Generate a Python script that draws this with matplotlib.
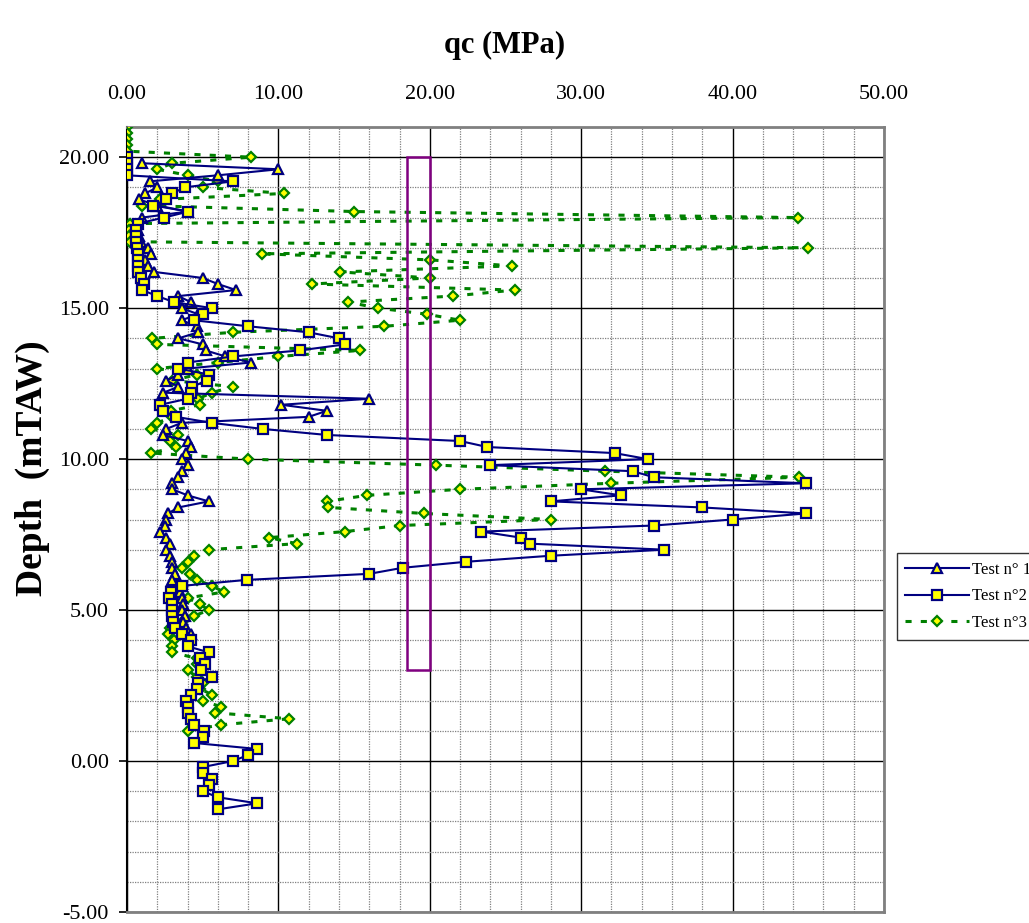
import matplotlib
matplotlib.use("Agg")
import matplotlib.pyplot as plt
from matplotlib.patches import Rectangle
from matplotlib.ticker import MultipleLocator, FormatStrFormatter

plt.rcParams["font.family"] = ["Liberation Serif", "DejaVu Serif"]

# Test n° 1 (triangles)
depth1 = [19.8, 19.6, 19.4, 19.2, 19.0, 18.8, 18.6, 18.4, 18.2, 18.0,
          17.8, 17.6, 17.4, 17.2, 17.0, 16.8, 16.6, 16.4, 16.2, 16.0,
          15.8, 15.6, 15.4, 15.2, 15.0, 14.8, 14.6, 14.4, 14.2, 14.0,
          13.8, 13.6, 13.4, 13.2, 13.0, 12.8, 12.6, 12.4, 12.2, 12.0,
          11.8, 11.6, 11.4, 11.2, 11.0, 10.8, 10.6, 10.4, 10.2, 10.0,
          9.8, 9.6, 9.4, 9.2, 9.0, 8.8, 8.6, 8.4, 8.2, 8.0,
          7.8, 7.6, 7.4, 7.2, 7.0, 6.8, 6.6, 6.4, 6.2, 6.0,
          5.8, 5.6, 5.4, 5.2, 5.0, 4.8, 4.6, 4.4, 4.2]
qc1 = [1.0, 10.0, 6.0, 1.5, 2.0, 1.2, 0.8, 2.0, 4.0, 1.0,
       0.6, 0.7, 0.8, 0.9, 1.4, 1.6, 1.2, 1.4, 1.8, 5.0,
       6.0, 7.2, 3.4, 4.2, 3.6, 4.7, 3.6, 4.6, 4.7, 3.4,
       5.0, 5.2, 6.5, 8.2, 4.0, 3.4, 2.6, 3.4, 2.4, 16.0,
       10.2, 13.2, 12.0, 3.6, 2.6, 2.4, 4.0, 4.2, 3.9, 3.6,
       4.0, 3.6, 3.4, 3.0, 3.0, 4.0, 5.4, 3.4, 2.7, 2.6,
       2.5, 2.2, 2.6, 2.85, 2.6, 2.85, 2.95, 3.0, 3.2, 3.0,
       3.6, 3.5, 3.6, 3.7, 3.6, 3.8, 3.7, 3.9, 4.2]

# Test n°2 (squares)
depth2 = [20.0, 19.8, 19.6, 19.4, 19.2, 19.0, 18.8, 18.6, 18.4, 18.2,
          18.0, 17.8, 17.6, 17.4, 17.2, 17.0, 16.8, 16.6, 16.4, 16.2,
          16.0, 15.8, 15.6, 15.4, 15.2, 15.0, 14.8, 14.6, 14.4, 14.2,
          14.0, 13.8, 13.6, 13.4, 13.2, 13.0, 12.8, 12.6, 12.4, 12.2,
          12.0, 11.8, 11.6, 11.4, 11.2, 11.0, 10.8, 10.6, 10.4, 10.2,
          10.0, 9.8, 9.6, 9.4, 9.2, 9.0, 8.8, 8.6, 8.4, 8.2,
          8.0, 7.8, 7.6, 7.4, 7.2, 7.0, 6.8, 6.6, 6.4, 6.2,
          6.0, 5.8, 5.6, 5.4, 5.2, 5.0, 4.8, 4.6, 4.4, 4.2,
          4.0, 3.8, 3.6, 3.4, 3.2, 3.0, 2.8, 2.6, 2.4, 2.2,
          2.0, 1.8, 1.6, 1.4, 1.2, 1.0, 0.8, 0.6, 0.4, 0.2,
          0.0, -0.2, -0.4, -0.6, -0.8, -1.0, -1.2, -1.4, -1.6]
qc2 = [0.0, 0.0, 0.0, 0.0, 7.0, 3.8, 3.0, 2.6, 1.75, 4.05,
       2.45, 0.7, 0.6, 0.6, 0.6, 0.65, 0.7, 0.75, 0.75, 0.75,
       0.9, 1.1, 1.0, 2.0, 3.1, 5.6, 5.0, 4.4, 8.0, 12.0,
       14.0, 14.4, 11.4, 7.0, 4.0, 3.4, 5.44, 5.3, 4.3, 4.2,
       4.0, 2.2, 2.4, 3.24, 5.6, 8.96, 13.2, 22.0, 23.8, 32.2,
       34.4, 24.0, 33.4, 34.8, 44.85, 30.0, 32.6, 28.0, 37.96, 44.85,
       40.0, 34.8, 23.4, 26.0, 26.6, 35.5, 28.0, 22.4, 18.2, 16.0,
       7.9, 3.6, 2.9, 2.8, 2.95, 3.0, 3.0, 3.06, 3.2, 3.6,
       4.2, 4.0, 5.4, 4.8, 5.15, 4.9, 5.6, 4.7, 4.6, 4.2,
       3.9, 4.0, 4.0, 4.2, 4.4, 5.1, 5.0, 4.4, 8.6, 8.0,
       7.0, 5.0, 5.0, 5.6, 5.4, 5.0, 6.0, 8.6, 6.0]

# Test n°3 (diamonds)
depth3 = [21.0, 20.8, 20.6, 20.4, 20.2, 20.0, 19.8, 19.6, 19.4, 19.2,
          19.0, 18.8, 18.6, 18.4, 18.2, 18.0, 17.8, 17.6, 17.4, 17.2,
          17.0, 16.8, 16.6, 16.4, 16.2, 16.0, 15.8, 15.6, 15.4, 15.2,
          15.0, 14.8, 14.6, 14.4, 14.2, 14.0, 13.8, 13.6, 13.4, 13.2,
          13.0, 12.8, 12.6, 12.4, 12.2, 12.0, 11.8, 11.6, 11.4, 11.2,
          11.0, 10.8, 10.6, 10.4, 10.2, 10.0, 9.8, 9.6, 9.4, 9.2,
          9.0, 8.8, 8.6, 8.4, 8.2, 8.0, 7.8, 7.6, 7.4, 7.2,
          7.0, 6.8, 6.6, 6.4, 6.2, 6.0, 5.8, 5.6, 5.4, 5.2,
          5.0, 4.8, 4.6, 4.4, 4.2, 4.0, 3.8, 3.6, 3.4, 3.2,
          3.0, 2.8, 2.6, 2.4, 2.2, 2.0, 1.8, 1.6, 1.4, 1.2, 1.0]
qc3 = [0.0, 0.0, 0.0, 0.0, 0.0, 8.2, 3.0, 2.0, 4.0, 6.0,
       5.0, 10.4, 2.2, 1.0, 15.0, 44.3, 0.2, 0.1, 0.1, 0.2,
       45.0, 8.9, 20.0, 25.4, 14.1, 20.0, 12.2, 25.6, 21.5, 14.6,
       16.6, 19.8, 22.0, 17.0, 7.0, 1.67, 2.0, 15.4, 10.0, 6.0,
       2.0, 4.6, 3.0, 7.0, 5.6, 4.7, 4.8, 2.9, 3.0, 2.0,
       1.6, 3.4, 2.84, 3.24, 1.6, 8.0, 20.4, 31.6, 44.4, 32.0,
       22.0, 15.85, 13.2, 13.3, 19.6, 28.0, 18.0, 14.4, 9.4, 11.2,
       5.4, 4.45, 4.0, 3.6, 4.16, 4.65, 5.6, 6.4, 4.0, 4.8,
       5.4, 4.4, 3.6, 2.84, 2.7, 3.1, 3.0, 3.0, 4.6, 4.6,
       4.0, 4.6, 5.0, 4.8, 5.6, 5.0, 6.2, 5.8, 10.7, 6.2, 4.0]

# purple band
band_qc = [18.5, 20.0]
band_depth = [3.0, 20.0]

fig = plt.figure(figsize=(10.29, 9.23), dpi=100)
ax = fig.add_axes([127 / 1029, 1 - 912 / 923, (884 - 127) / 1029, (912 - 127) / 923])

ax.plot(qc1, depth1, "-", color="#000080", lw=1.5, marker="^", ms=7.5,
        mfc="yellow", mec="#000080", mew=1.6, label="Test n° 1", zorder=4)
ax.plot(qc2, depth2, "-", color="#000080", lw=1.5, marker="s", ms=7,
        mfc="yellow", mec="#000080", mew=1.6, label="Test n°2", zorder=5)
ax.plot(qc3, depth3, linestyle=(0, (2, 3)), color="#008000", lw=2.2, marker="D", ms=5.5,
        mfc="yellow", mec="#008000", mew=1.6, label="Test n°3", zorder=3)

ax.add_patch(Rectangle((band_qc[0], band_depth[0]), band_qc[1] - band_qc[0],
                       band_depth[1] - band_depth[0], fill=False,
                       edgecolor="#800080", lw=1.8, zorder=6))

ax.set_xlim(0, 50)
ax.set_ylim(-5, 21)
ax.xaxis.set_major_locator(MultipleLocator(10))
ax.xaxis.set_minor_locator(MultipleLocator(2))
ax.yaxis.set_major_locator(MultipleLocator(5))
ax.yaxis.set_minor_locator(MultipleLocator(1))
ax.xaxis.set_major_formatter(FormatStrFormatter("%.2f"))
ax.yaxis.set_major_formatter(FormatStrFormatter("%.2f"))
ax.xaxis.tick_top()
ax.tick_params(axis="x", which="both", length=0, pad=16.5, labelsize=16)
ax.tick_params(axis="y", which="major", length=6, width=1.2, pad=7, labelsize=16, direction="out")
ax.tick_params(axis="y", which="minor", length=0)

ax.grid(which="major", color="black", lw=1.0, ls="-")
ax.grid(which="minor", color="#808080", lw=0.9, ls=(0, (1, 1)))
ax.set_axisbelow(True)

for side in ["top", "right", "bottom"]:
    ax.spines[side].set_color("#808080")
    ax.spines[side].set_linewidth(2)
ax.spines["left"].set_color("black")
ax.spines["left"].set_linewidth(1.5)

fig.text(505 / 1029, 1 - 45 / 923, "qc (MPa)", ha="center", va="center",
         fontsize=22, fontweight="bold")
fig.text(32 / 1029, 1 - 468 / 923, "Depth  (mTAW)", ha="center", va="center",
         rotation=90, fontsize=27, fontweight="bold")

leg = ax.legend(loc="upper left", bbox_to_anchor=(1.017, 0.457), fontsize=12,
                frameon=True, fancybox=False, borderaxespad=0, handlelength=3.8,
                handletextpad=0.2, labelspacing=0.65, borderpad=0.5)
leg.get_frame().set_edgecolor("black")
leg.get_frame().set_linewidth(1.0)

fig.savefig("out.png", dpi=100)
